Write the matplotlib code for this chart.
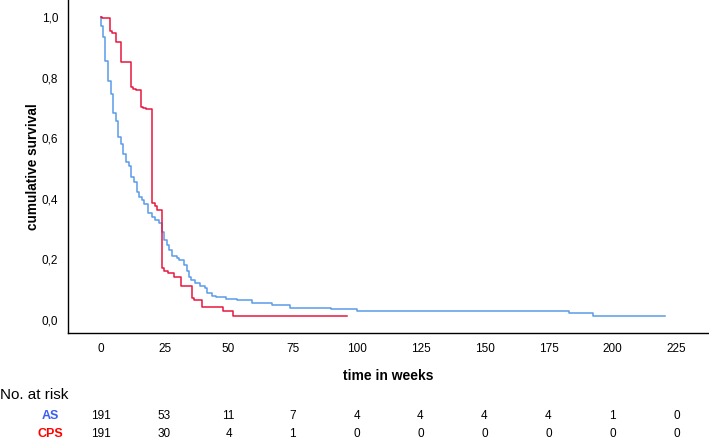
import matplotlib
matplotlib.use("Agg")
import matplotlib.pyplot as plt
import matplotlib.transforms as mtransforms

plt.rcParams['font.family'] = ['Liberation Sans', 'DejaVu Sans']

# Kaplan-Meier step data (weeks, cumulative survival)
as_time = [0, 0.1, 0.9, 1.8, 2.8, 4.0, 5.0, 5.9, 7.0, 7.9, 8.9, 10.0, 11.1, 11.9, 13.1,
           14.1, 15.2, 16.1, 17.1, 18.7, 20.0, 21.3, 22.9, 23.9, 24.8, 25.9, 26.8, 27.8,
           29.8, 30.8, 32.6, 33.7, 34.6, 35.4, 36.9, 38.9, 40.8, 41.7, 43.4, 45.1, 49.0,
           53.2, 59.1, 66.9, 74.0, 89.9, 100.1, 183.1, 192.3, 220.5]
as_surv = [1.0, 0.970, 0.935, 0.856, 0.789, 0.746, 0.684, 0.658, 0.603, 0.580, 0.548,
           0.522, 0.508, 0.473, 0.456, 0.423, 0.407, 0.396, 0.383, 0.354, 0.341, 0.330,
           0.319, 0.291, 0.264, 0.248, 0.231, 0.211, 0.204, 0.198, 0.182, 0.163, 0.143,
           0.132, 0.121, 0.112, 0.105, 0.090, 0.079, 0.075, 0.069, 0.066, 0.057, 0.050,
           0.041, 0.035, 0.030, 0.024, 0.013, 0.013]

cps_time = [0, 0.7, 3.7, 4.6, 5.9, 7.9, 11.8, 12.8, 13.9, 15.8, 16.7, 17.8, 20.0, 21.3,
            22.2, 23.9, 24.9, 26.2, 28.9, 31.5, 35.6, 36.7, 39.7, 47.9, 51.8, 96.2]
cps_surv = [1.0, 0.995, 0.955, 0.946, 0.916, 0.850, 0.768, 0.762, 0.759, 0.704, 0.699,
            0.695, 0.385, 0.377, 0.363, 0.170, 0.162, 0.156, 0.143, 0.112, 0.072, 0.065,
            0.044, 0.030, 0.013, 0.013]

risk_times = [0, 25, 50, 75, 100, 125, 150, 175, 200, 225]
as_at_risk = [191, 53, 11, 7, 4, 4, 4, 4, 1, 0]
cps_at_risk = [191, 30, 4, 1, 0, 0, 0, 0, 0, 0]

fig = plt.figure(figsize=(7.09, 4.40), dpi=100)
ax = fig.add_axes([68 / 709, 107 / 440, 641 / 709, 333 / 440])

ax.step(as_time, as_surv, where='post', color='#5a9ce8', lw=1.1)
ax.step(cps_time, cps_surv, where='post', color='#e5173f', lw=1.1)

ax.set_xlim(-12.7, 237.7)
ax.set_ylim(-0.043, 1.056)
ax.set_xticks(risk_times)
ax.set_yticks([0, 0.2, 0.4, 0.6, 0.8, 1.0])
ax.set_yticklabels(['0,0', '0,2', '0,4', '0,6', '0,8', '1,0'])
ax.tick_params(length=0, labelsize=8.5, pad=7)

ax.spines['top'].set_visible(False)
ax.spines['right'].set_visible(False)
ax.spines['left'].set_linewidth(1.0)
ax.spines['bottom'].set_linewidth(1.0)

ax.set_xlabel('time in weeks', fontsize=10, fontweight='bold', labelpad=10)
ax.set_ylabel('cumulative survival', fontsize=9.8, fontweight='bold', labelpad=1)

# number at risk table
trans = mtransforms.blended_transform_factory(ax.transData, fig.transFigure)
fig.text(0.0, 1 - 395 / 440, 'No. at risk', fontsize=11, ha='left', va='center')
fig.text(50 / 709, 1 - 416 / 440, 'AS', fontsize=9, fontweight='bold',
         color='#3b5ef0', ha='center', va='center')
fig.text(50 / 709, 1 - 434 / 440, 'CPS', fontsize=9, fontweight='bold',
         color='#ff0000', ha='center', va='center')
for t, a, c in zip(risk_times, as_at_risk, cps_at_risk):
    ax.text(t, 1 - 416 / 440, str(a), transform=trans, fontsize=8.5,
            ha='center', va='center', clip_on=False)
    ax.text(t, 1 - 434 / 440, str(c), transform=trans, fontsize=8.5,
            ha='center', va='center', clip_on=False)

fig.savefig('out.png', dpi=100)
